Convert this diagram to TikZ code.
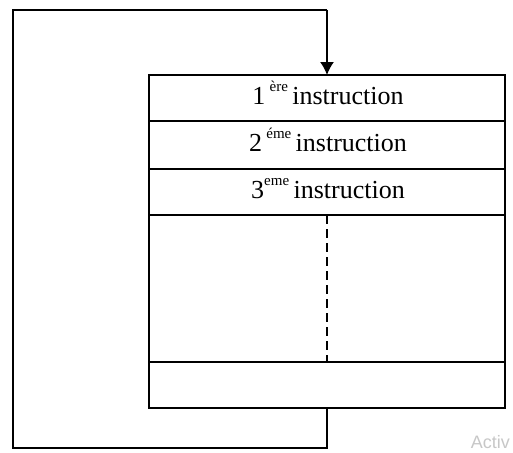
\documentclass[tikz,border=0pt]{standalone}
\usepackage{fontspec}
\setmainfont{Liberation Serif}
\newfontfamily\wmfont{Liberation Sans}
\usetikzlibrary{arrows.meta}
\tikzset{
  cell/.style={draw, line width=1.4pt, anchor=north west, inner sep=0pt, outer sep=0pt,
    minimum width=356pt, font=\fontsize{26}{30}\selectfont},
  celltext/.style={inner sep=0pt, font=\fontsize{26}{30}\selectfont},
  wire/.style={line width=1.4pt},
}
\newcommand{\myexp}[1]{\raisebox{0.5em}{\fontsize{15}{16}\selectfont #1}}
\begin{document}
\begin{tikzpicture}[x=1pt,y=-1pt]
\useasboundingbox (0,0) rectangle (513,452);
\node[cell, minimum height=46pt] (r1) at (149,75) {};
\node[cell, minimum height=48pt] (r2) at (149,121) {};
\node[cell, minimum height=46pt] (r3) at (149,169) {};
\node[cell, minimum height=147pt] (r4) at (149,215) {};
\node[cell, minimum height=46pt] (r5) at (149,362) {};
\node[celltext, anchor=base] (t1) at (328,104) {1\,\myexp{ère}\,instruction};
\node[celltext, anchor=base] (t2) at (328,151) {2\,\myexp{éme}\,instruction};
\node[celltext, anchor=base] (t3) at (328,198) {3\myexp{eme}\,instruction};
\coordinate (tl) at (13,10);
\coordinate (bl) at (13,448);
\draw[wire, dash pattern=on 9pt off 5pt] (r4.north) -- (r4.south);
\draw[wire] (r5.south) -- (r5.south |- bl) -- (bl) -- (tl) -- (tl -| r1.north);
\draw[wire, -{Latex[length=13pt,width=14pt]}] (tl -| r1.north) -- (r1.north);
\node[anchor=base east, inner sep=0pt, text=black!22, font=\wmfont\fontsize{18}{21}\selectfont] (wm) at (510,448) {Activ};
\end{tikzpicture}
\end{document}
